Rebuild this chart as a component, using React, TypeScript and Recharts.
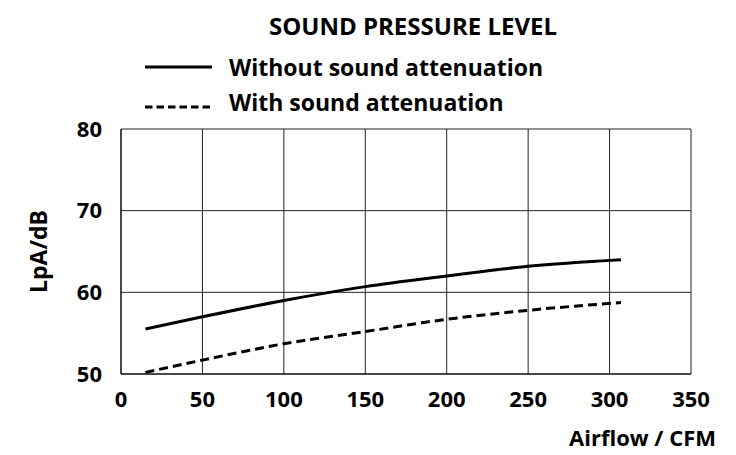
import React from "react";
import {
  LineChart,
  Line,
  XAxis,
  YAxis,
  CartesianGrid,
  Legend,
  Label,
} from "recharts";

const airflow = [15, 50, 100, 150, 200, 250, 307];
const withoutAttenuation = [55.5, 57.0, 59.0, 60.7, 62.0, 63.2, 64.0];
const withAttenuation = [50.2, 51.7, 53.7, 55.2, 56.7, 57.8, 58.75];
const xTicks = [0, 50, 100, 150, 200, 250, 300, 350];
const yTicks = [50, 60, 70, 80];

const FONT = "'Open Sans', 'DejaVu Sans', sans-serif";

const data = airflow.map((x, i) => ({
  x,
  without: withoutAttenuation[i],
  with: withAttenuation[i],
}));

const series = [
  { key: "without", label: "Without sound attenuation", dash: undefined, legendDash: undefined, lineY: 0 },
  { key: "with", label: "With sound attenuation", dash: "9 5", legendDash: "7.5 4", lineY: 5 },
];

const LegendContent = () => (
  <div style={{ fontFamily: FONT, fontWeight: 700, fontSize: 23, color: "#000" }}>
    {series.map((s) => (
      <div key={s.key} style={{ display: "flex", alignItems: "center", height: 35 }}>
        <svg width={84} height={20} style={{ overflow: "visible" }}>
          <line
            x1={0}
            y1={10 + s.lineY}
            x2={67}
            y2={10 + s.lineY}
            stroke="#000"
            strokeWidth={3}
            strokeDasharray={s.legendDash}
          />
        </svg>
        <span>{s.label}</span>
      </div>
    ))}
  </div>
);

export default function App() {
  return (
    <div style={{ position: "absolute", left: 0, top: 0, width: 736, height: 455, background: "#fff" }}>
      <div
        style={{
          position: "absolute",
          left: 0,
          width: 826,
          top: 9,
          textAlign: "center",
          fontFamily: FONT,
          fontWeight: 700,
          fontSize: 24,
          color: "#000",
          whiteSpace: "nowrap",
        }}
      >
        SOUND PRESSURE LEVEL
      </div>
      <LineChart width={736} height={455} data={data} margin={{ top: 129, right: 45, left: 0, bottom: 0 }}>
        <CartesianGrid stroke="#222" strokeWidth={1} />
        <XAxis
          dataKey="x"
          type="number"
          domain={[0, 350]}
          ticks={xTicks}
          height={81}
          tickSize={0}
          tickMargin={17}
          axisLine={{ stroke: "#000" }}
          tickLine={false}
          tick={{ fontFamily: FONT, fontWeight: 700, fontSize: 22, fill: "#000" }}
        >
          <Label
            content={({ viewBox }: any) => (
              <text
                x={viewBox.x + viewBox.width + 25}
                y={viewBox.y + 63}
                textAnchor="end"
                dominantBaseline="central"
                fontFamily={FONT}
                fontWeight={700}
                fontSize={22}
                fill="#000"
              >
                Airflow / CFM
              </text>
            )}
          />
        </XAxis>
        <YAxis
          type="number"
          domain={[50, 80]}
          ticks={yTicks}
          width={121}
          tickSize={0}
          tickMargin={19}
          axisLine={{ stroke: "#000" }}
          tickLine={false}
          tick={{ fontFamily: FONT, fontWeight: 700, fontSize: 22, fill: "#000" }}
        >
          <Label
            content={({ viewBox }: any) => {
              const cx = 38;
              const cy = viewBox.y + viewBox.height / 2;
              return (
                <text
                  x={cx}
                  y={cy}
                  transform={`rotate(-90 ${cx} ${cy})`}
                  textAnchor="middle"
                  dominantBaseline="central"
                  fontFamily={FONT}
                  fontWeight={700}
                  fontSize={23}
                  fill="#000"
                >
                  LpA/dB
                </text>
              );
            }}
          />
        </YAxis>
        <Legend
          layout="vertical"
          align="center"
          verticalAlign="middle"
          content={<LegendContent />}
          wrapperStyle={{ position: "absolute", top: 49, left: 145, width: "auto" }}
        />
        {series.map((s) => (
          <Line
            key={s.key}
            dataKey={s.key}
            name={s.label}
            type="monotone"
            stroke="#000"
            strokeWidth={3}
            strokeDasharray={s.dash}
            dot={false}
            activeDot={false}
            isAnimationActive={false}
          />
        ))}
      </LineChart>
    </div>
  );
}
